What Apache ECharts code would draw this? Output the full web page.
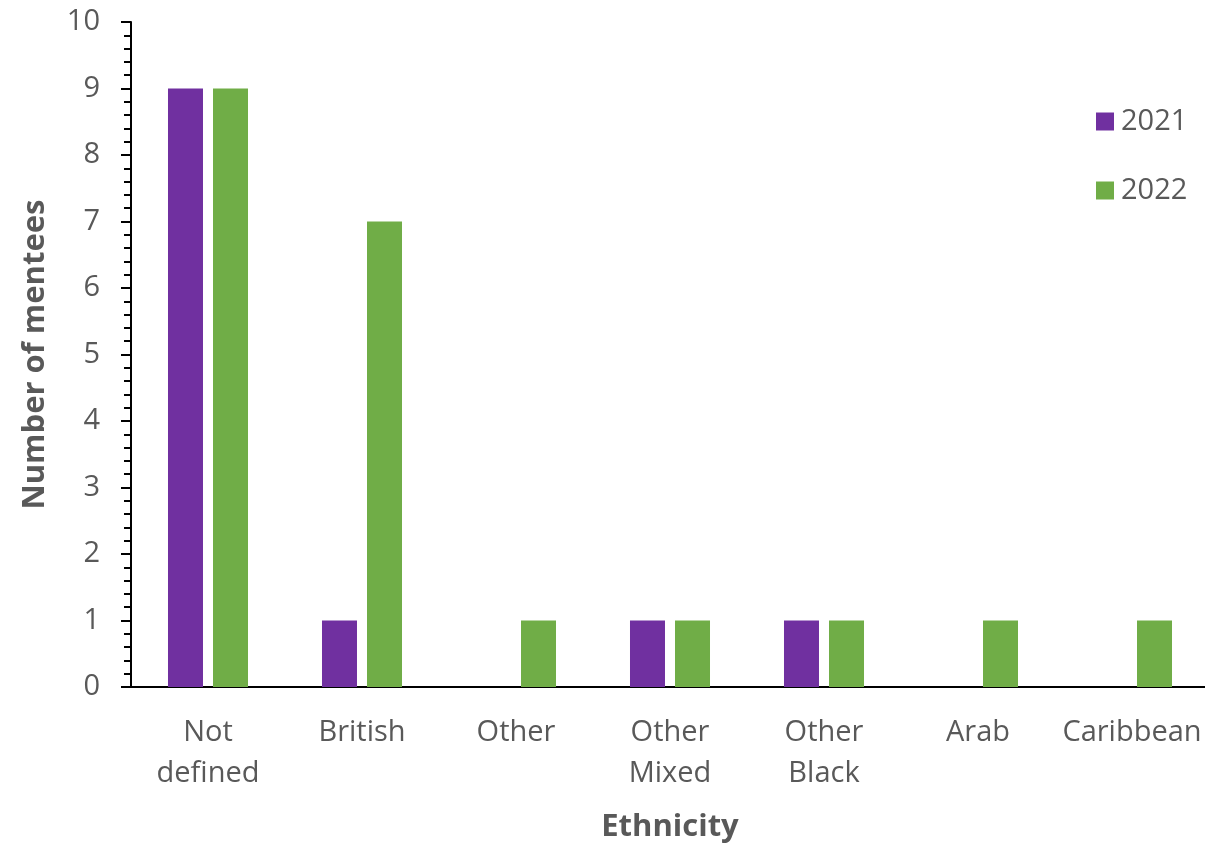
<!DOCTYPE html>
<html>
<head>
<meta charset="utf-8">
<script src="https://cdn.jsdelivr.net/npm/echarts@6/dist/echarts.min.js"></script>
<style>html,body{margin:0;padding:0;background:#fff}#c{width:1205px;height:843px}</style>
</head>
<body>
<div id="c"></div>
<script>
const categories = ['Not\ndefined', 'British', 'Other', 'Other\nMixed', 'Other\nBlack', 'Arab', 'Caribbean'];
const values2021 = [9, 1, 0, 1, 1, 0, 0];
const values2022 = [9, 7, 1, 1, 1, 1, 1];
const yTicks = [0, 10, 1];

const FONT = '"Open Sans"';
const chart = echarts.init(document.getElementById('c'));
chart.setOption({
  animation: false,
  textStyle: { fontFamily: FONT },
  grid: { left: 131, top: 22, width: 1078, height: 665, containLabel: false, outerBoundsMode: 'none' },
  legend: {
    orient: 'vertical',
    left: 1091, top: 102,
    itemWidth: 18, itemHeight: 18, itemGap: 40,
    icon: 'rect',
    textStyle: { fontSize: 29, color: '#595959', fontFamily: FONT, padding: [0, 0, 0, 2] },
    data: ['2021', '2022']
  },
  xAxis: {
    type: 'category',
    data: categories,
    axisLine: { lineStyle: { color: '#000', width: 2 } },
    axisTick: { show: false },
    axisLabel: { fontSize: 29, color: '#595959', margin: 25, lineHeight: 41, fontFamily: FONT, interval: 0 },
    name: 'Ethnicity',
    nameLocation: 'middle',
    nameGap: 125,
    nameTextStyle: { fontSize: 31, fontWeight: 'bold', color: '#595959', fontFamily: FONT }
  },
  yAxis: {
    type: 'value',
    min: yTicks[0], max: yTicks[1], interval: yTicks[2],
    axisLine: { show: true, lineStyle: { color: '#000', width: 2 } },
    axisTick: { show: true, length: 10, lineStyle: { color: '#000', width: 2 } },
    minorTick: { show: true, splitNumber: 5, length: 7, lineStyle: { color: '#000', width: 2 } },
    splitLine: { show: false },
    axisLabel: { fontSize: 29, color: '#595959', margin: 31, fontFamily: FONT },
    name: 'Number of mentees',
    nameLocation: 'middle',
    nameGap: 80,
    nameTextStyle: { fontSize: 31, fontWeight: 'bold', color: '#595959', fontFamily: FONT }
  },
  series: [
    { name: '2021', type: 'bar', data: values2021, barWidth: 35, barGap: '28.6%',
      itemStyle: { color: '#7030A0' } },
    { name: '2022', type: 'bar', data: values2022, barWidth: 35, barGap: '28.6%',
      itemStyle: { color: '#70AD47' } }
  ]
});
</script>
</body>
</html>
